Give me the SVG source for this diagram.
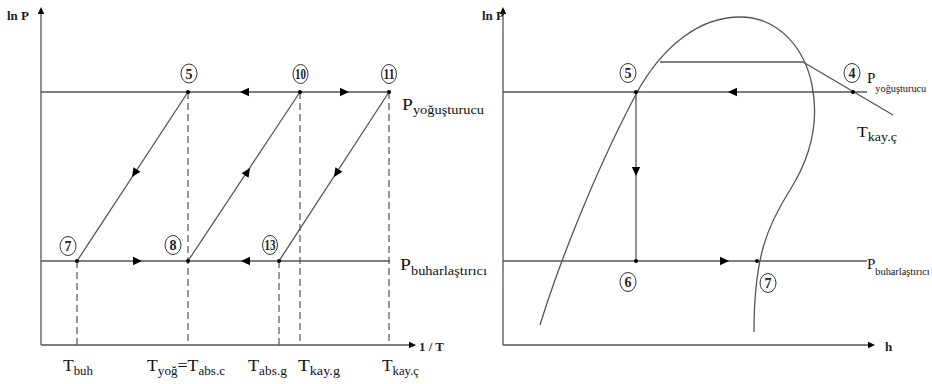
<svg xmlns="http://www.w3.org/2000/svg" xmlns:xlink="http://www.w3.org/1999/xlink" width="932" height="384" viewBox="0 0 932 384">
<defs>
<style>
.ln{stroke:#555;stroke-width:1.3;fill:none}
.ds{stroke:#555;stroke-width:1.2;fill:none;stroke-dasharray:7 4}
.dot{fill:#000}
.ring{fill:#fff;stroke:#333;stroke-width:1}
.num{font-family:"Liberation Serif","Times New Roman",serif;font-size:14px;font-weight:bold;fill:#222;text-anchor:middle}
.ax{font-family:"Liberation Serif","Times New Roman",serif;font-weight:bold;font-size:13px;fill:#222}
.lbl{font-family:"Liberation Serif","Times New Roman",serif;font-size:17px;fill:#111}
.sub{font-size:12.5px}
.lblr{font-family:"Liberation Serif","Times New Roman",serif;font-size:15px;fill:#111}
.subr{font-size:10.3px}
</style>
<path id="ah" d="M0,0 L-9,-4.2 L-9,4.2 Z" fill="#000"/>
<path id="ahs" d="M0,0 L-7,-3.2 L-7,3.2 Z" fill="#000"/>
</defs>
<rect width="932" height="384" fill="#fff"/>

<!-- ===== LEFT CHART ===== -->
<g id="left-axes">
<line class="ln" x1="41" y1="12" x2="41" y2="345"/>
<line class="ln" x1="41" y1="345" x2="411" y2="345"/>
<use xlink:href="#ahs" transform="translate(41,7) rotate(-90)"/>
<use xlink:href="#ahs" transform="translate(416,345)"/>
<text class="ax" x="7" y="20">ln P</text>
<text class="ax" x="419" y="351" font-size="14" textLength="25" lengthAdjust="spacingAndGlyphs">1 / T</text>
</g>

<g id="left-connectors">
<line class="ln" x1="41" y1="92" x2="389" y2="92"/>
<line class="ln" x1="41" y1="261" x2="390" y2="261"/>
<line class="ln" x1="77" y1="261" x2="188" y2="92"/>
<line class="ln" x1="188" y1="261" x2="300" y2="92"/>
<line class="ln" x1="279" y1="261" x2="389" y2="92"/>
<line class="ds" x1="77" y1="261" x2="77" y2="345"/>
<line class="ds" x1="188" y1="92" x2="188" y2="345"/>
<line class="ds" x1="279" y1="261" x2="279" y2="345"/>
<line class="ds" x1="300" y1="92" x2="300" y2="345"/>
<line class="ds" x1="389" y1="92" x2="389" y2="345"/>
<use xlink:href="#ah" transform="translate(240,92) rotate(180)"/>
<use xlink:href="#ah" transform="translate(349,92)"/>
<use xlink:href="#ah" transform="translate(142,261)"/>
<use xlink:href="#ah" transform="translate(241,261) rotate(180)"/>
<use xlink:href="#ah" transform="translate(132,177) rotate(123.3)"/>
<use xlink:href="#ah" transform="translate(250,168) rotate(-56.5)"/>
<use xlink:href="#ah" transform="translate(334,177) rotate(123.1)"/>
</g>

<g id="L5"><circle class="dot" cx="188" cy="92" r="2"/><ellipse class="ring" cx="189" cy="73.5" rx="8" ry="9.5"/><text class="num" x="189" y="78.5">5</text></g>
<g id="L10"><circle class="dot" cx="300" cy="92" r="2"/><ellipse class="ring" cx="300.5" cy="74" rx="7.5" ry="9.5"/><text class="num" x="300.5" y="79" textLength="11" lengthAdjust="spacingAndGlyphs">10</text></g>
<g id="L11"><circle class="dot" cx="389" cy="92" r="2"/><ellipse class="ring" cx="389" cy="74" rx="7.5" ry="9.5"/><text class="num" x="389" y="79" textLength="11" lengthAdjust="spacingAndGlyphs">11</text></g>
<g id="L7"><circle class="dot" cx="77" cy="261" r="2"/><ellipse class="ring" cx="68" cy="246" rx="8" ry="9.5"/><text class="num" x="68" y="251">7</text></g>
<g id="L8"><circle class="dot" cx="188" cy="261" r="2"/><ellipse class="ring" cx="173" cy="245" rx="8" ry="9.5"/><text class="num" x="173" y="250">8</text></g>
<g id="L13"><circle class="dot" cx="279" cy="261" r="2"/><ellipse class="ring" cx="270" cy="245" rx="7.5" ry="9.5"/><text class="num" x="270" y="250" textLength="11" lengthAdjust="spacingAndGlyphs">13</text></g>

<g id="left-labels">
<text class="lbl" x="402" y="110" textLength="82" lengthAdjust="spacingAndGlyphs">P<tspan class="sub" dy="4">yoğuşturucu</tspan></text>
<text class="lbl" x="400" y="270" textLength="87" lengthAdjust="spacingAndGlyphs">P<tspan class="sub" dy="5">buharlaştırıcı</tspan></text>
<text class="lbl" x="63" y="371" textLength="30" lengthAdjust="spacingAndGlyphs">T<tspan class="sub" dy="4">buh</tspan></text>
<text class="lbl" x="147" y="371" textLength="78" lengthAdjust="spacingAndGlyphs">T<tspan class="sub" dy="4">yoğ</tspan><tspan dy="-4">=T</tspan><tspan class="sub" dy="4">abs.c</tspan></text>
<text class="lbl" x="248" y="371" textLength="39" lengthAdjust="spacingAndGlyphs">T<tspan class="sub" dy="4">abs.g</tspan></text>
<text class="lbl" x="298" y="371" textLength="42" lengthAdjust="spacingAndGlyphs">T<tspan class="sub" dy="4">kay.g</tspan></text>
<text class="lbl" x="382" y="371" textLength="37" lengthAdjust="spacingAndGlyphs">T<tspan class="sub" dy="4">kay.ç</tspan></text>
</g>

<!-- ===== RIGHT CHART ===== -->
<g id="right-axes">
<line class="ln" x1="503" y1="12" x2="503" y2="345"/>
<line class="ln" x1="503" y1="345" x2="870" y2="345"/>
<use xlink:href="#ahs" transform="translate(503,7) rotate(-90)"/>
<use xlink:href="#ahs" transform="translate(875,345)"/>
<text class="ax" x="482" y="20">ln P</text>
<text class="ax" x="885" y="351" font-size="15">h</text>
</g>

<g id="right-connectors">
<path class="ln" d="M540,325 C560,260 600,160 640,87 C665,45 700,17 740,17 C780,17 805,50 812,85 C819,120 812,155 790,190 C768,225 754,255 754,332"/>
<line class="ln" x1="503" y1="92" x2="867" y2="92"/>
<line class="ln" x1="503" y1="261" x2="867" y2="261"/>
<line class="ln" x1="660" y1="62" x2="803" y2="62"/>
<line class="ln" x1="803" y1="62" x2="893" y2="115"/>
<line class="ln" x1="636" y1="92" x2="636" y2="261"/>
<use xlink:href="#ah" transform="translate(728,92) rotate(180)"/>
<use xlink:href="#ah" transform="translate(636,176) rotate(90)"/>
<use xlink:href="#ah" transform="translate(729,261)"/>
</g>

<g id="R5"><circle class="dot" cx="636" cy="92" r="2"/><ellipse class="ring" cx="628" cy="73" rx="8" ry="9.5"/><text class="num" x="628" y="78">5</text></g>
<g id="R4"><circle class="dot" cx="853" cy="92" r="2"/><ellipse class="ring" cx="852" cy="73" rx="8" ry="9.5"/><text class="num" x="852" y="78">4</text></g>
<g id="R6"><circle class="dot" cx="636" cy="261" r="2"/><ellipse class="ring" cx="628" cy="282" rx="8" ry="9.5"/><text class="num" x="628" y="287">6</text></g>
<g id="R7"><circle class="dot" cx="757" cy="261" r="2"/><ellipse class="ring" cx="768" cy="283" rx="8" ry="9.5"/><text class="num" x="768" y="288">7</text></g>

<g id="right-labels">
<text class="lblr" x="867" y="83">P<tspan class="subr" dy="8.5">yoğuşturucu</tspan></text>
<text class="lblr" x="857" y="137" font-size="16" textLength="40" lengthAdjust="spacingAndGlyphs">T<tspan font-size="12" dy="4">kay.ç</tspan></text>
<text class="lblr" x="867" y="269">P<tspan class="subr" dy="6">buharlaştırıcı</tspan></text>
</g>
</svg>
